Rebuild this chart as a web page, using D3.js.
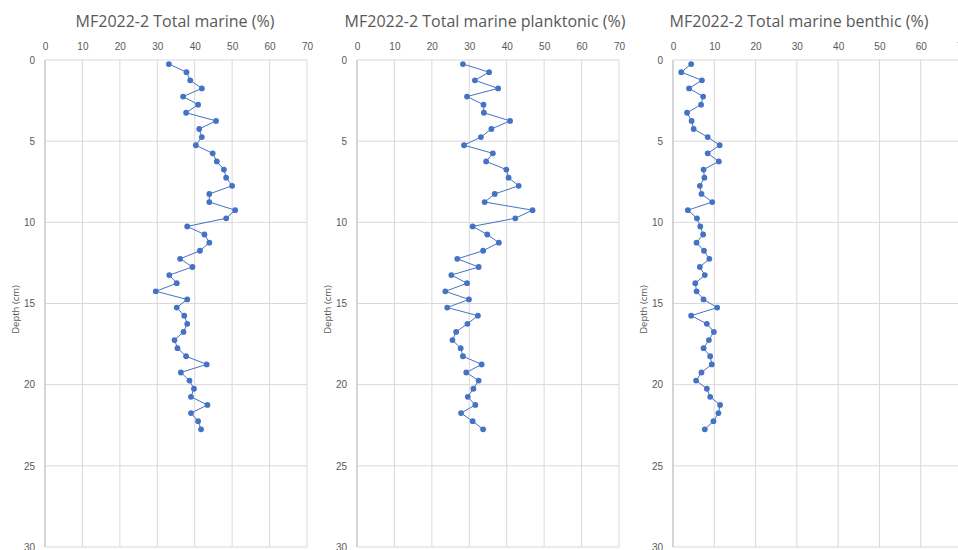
<!DOCTYPE html>
<html lang="en">
<head>
<meta charset="UTF-8">
<title>MF2022-2 marine diatoms</title>
<script src="https://cdnjs.cloudflare.com/ajax/libs/d3/7.8.5/d3.min.js"></script>
<style>
  body { margin: 0; background: #fff; }
  svg { display: block; font-family: "Open Sans", "Liberation Sans", sans-serif; }
  .tick text { fill: #595959; font-size: 10px; }
  .grid line { stroke: #d9d9d9; stroke-width: 1; }
  .title { fill: #595959; font-size: 16px; }
  .ylab { fill: #595959; font-size: 9.5px; }
</style>
</head>
<body>
<div id="chart"></div>
<script>
// sample depths (cm), midpoints of 0.5 cm slices
const depths = d3.range(46).map(i => 0.25 + i * 0.5);

const totalMarine = [33.1, 37.8, 38.8, 41.9, 36.9, 40.9, 37.7, 45.7, 41.2, 41.9,
  40.3, 44.8, 45.9, 47.8, 48.4, 50.0, 43.9, 43.9, 50.8, 48.4,
  38.0, 42.6, 43.9, 41.4, 36.1, 39.4, 33.2, 35.2, 29.6, 38.0,
  35.2, 37.2, 38.0, 37.0, 34.6, 35.4, 37.7, 43.2, 36.3, 38.6,
  39.8, 39.0, 43.4, 39.0, 40.9, 41.7];

const planktonic = [28.3, 35.3, 31.5, 37.7, 29.4, 33.8, 33.9, 40.9, 35.9, 33.1,
  28.6, 36.3, 34.5, 39.9, 40.5, 43.2, 36.8, 34.1, 46.9, 42.3,
  30.9, 34.8, 37.9, 33.7, 26.8, 32.5, 25.2, 29.4, 23.6, 29.9,
  24.1, 32.3, 29.5, 26.5, 25.5, 27.7, 28.3, 33.3, 29.2, 32.5,
  31.1, 29.6, 31.6, 27.8, 30.9, 33.7];

const benthic = [4.4, 2.0, 7.0, 3.9, 7.3, 6.8, 3.4, 4.5, 5.0, 8.4,
  11.3, 8.4, 11.1, 7.4, 7.6, 6.5, 6.9, 9.5, 3.6, 5.8,
  6.6, 7.3, 5.7, 7.5, 8.8, 6.5, 7.7, 5.4, 5.7, 7.4,
  10.7, 4.4, 8.2, 9.9, 8.7, 7.4, 9.0, 9.4, 6.9, 5.6,
  8.2, 9.0, 11.4, 11.0, 9.8, 7.7];

const xTicks = [0, 10, 20, 30, 40, 50, 60, 70];
const yTicks = [0, 5, 10, 15, 20, 25, 30];

const panels = [
  { title: "MF2022-2 Total marine (%)", values: totalMarine, left: 45, right: 307, titleX: 175 },
  { title: "MF2022-2 Total marine planktonic (%)", values: planktonic, left: 357, right: 619, titleX: 485 },
  { title: "MF2022-2 Total marine benthic (%)", values: benthic, left: 673, right: 962, titleX: 799 }
];

const width = 958, height = 550;
const plotTop = 60, plotBottom = 547;
const blue = "#4472c4";

const svg = d3.select("#chart").append("svg")
  .attr("width", width)
  .attr("height", height);

panels.forEach(p => {
  const x = d3.scaleLinear().domain([0, 70]).range([p.left, p.right]);
  const y = d3.scaleLinear().domain([0, 30]).range([plotTop, plotBottom]);
  const g = svg.append("g");

  // vertical gridlines
  g.append("g").attr("class", "grid")
    .selectAll("line").data(xTicks).join("line")
    .attr("x1", d => x(d)).attr("x2", d => x(d))
    .attr("y1", plotTop).attr("y2", plotBottom);

  // horizontal gridlines
  g.append("g").attr("class", "grid")
    .selectAll("line").data(yTicks).join("line")
    .attr("x1", p.left).attr("x2", p.right)
    .attr("y1", d => y(d)).attr("y2", d => y(d));

  // left axis line
  g.append("line")
    .attr("x1", p.left).attr("x2", p.left)
    .attr("y1", plotTop).attr("y2", plotBottom)
    .attr("stroke", "#bfbfbf");

  const xAxis = g.append("g")
    .attr("transform", `translate(0,${plotTop})`)
    .call(d3.axisTop(x).tickValues(xTicks).tickSize(0).tickPadding(10));
  xAxis.select(".domain").remove();

  const yAxis = g.append("g")
    .attr("transform", `translate(${p.left},0)`)
    .call(d3.axisLeft(y).tickValues(yTicks).tickSize(0).tickPadding(10));
  yAxis.select(".domain").remove();

  g.append("text")
    .attr("class", "ylab")
    .attr("transform", `translate(${p.left - 26},${(plotTop + plotBottom) / 2 + 6}) rotate(-90)`)
    .attr("text-anchor", "middle")
    .text("Depth (cm)");

  g.append("text")
    .attr("class", "title")
    .attr("x", p.titleX)
    .attr("y", 27)
    .attr("text-anchor", "middle")
    .text(p.title);

  const pts = depths.map((d, i) => ({ depth: d, v: p.values[i] }));

  g.append("path")
    .datum(pts)
    .attr("fill", "none")
    .attr("stroke", blue)
    .attr("stroke-width", 1)
    .attr("d", d3.line().x(d => x(d.v)).y(d => y(d.depth)));

  g.selectAll("circle.pt").data(pts).join("circle")
    .attr("class", "pt")
    .attr("cx", d => x(d.v))
    .attr("cy", d => y(d.depth))
    .attr("r", 2.9)
    .attr("fill", blue);
});
</script>
</body>
</html>
